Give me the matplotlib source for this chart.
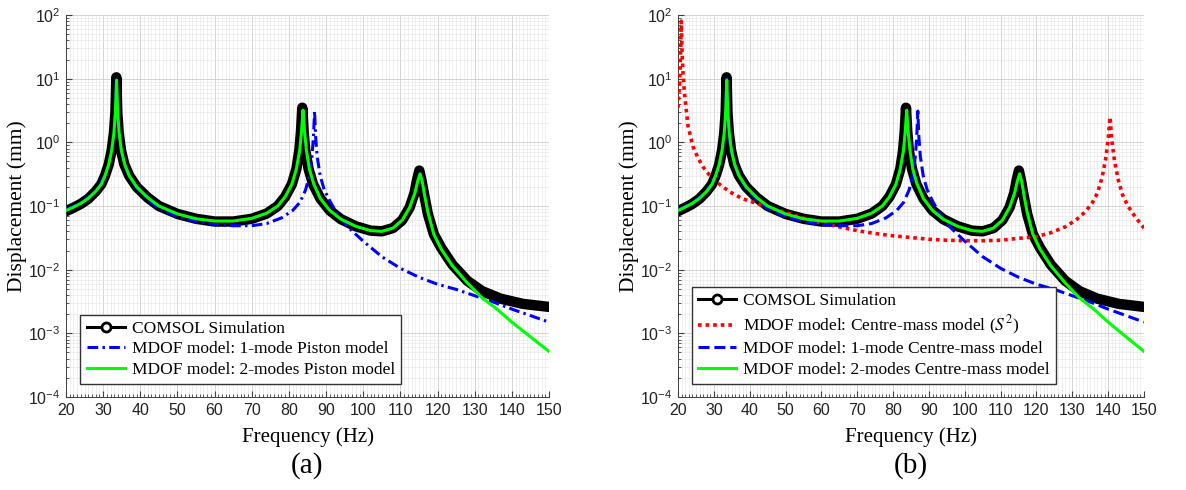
import matplotlib
matplotlib.use("Agg")
import matplotlib.pyplot as plt
import matplotlib.ticker as plticker
from matplotlib.lines import Line2D
import numpy as np

plt.rcParams['font.family'] = 'Liberation Sans'
plt.rcParams['mathtext.fontset'] = 'stix'

# ---- data (frequency in Hz, displacement in mm) ----
comsol_f = [20, 22, 24, 26, 28, 29.5, 30.5, 31.5, 32.3, 32.9, 33.3, 33.55, 33.8, 34.2, 34.8,
            35.7, 37, 39, 42, 45, 50, 55, 60, 65, 70, 74, 77, 79, 80.8, 82,
            82.8, 83.25, 83.6, 83.95, 84.4, 85.3, 86.5, 88.5, 91, 94, 98, 102, 105, 108, 110.5,
            112.5, 113.8, 114.5, 115.1, 115.7, 116.4, 117.4, 119, 121, 124, 128, 132, 137, 143, 150]
comsol_d = [0.083, 0.094, 0.108, 0.13, 0.17, 0.22, 0.3, 0.45, 0.75, 1.4, 3.0, 10.5, 3.0, 1.4, 0.75,
            0.45, 0.3, 0.2, 0.135, 0.1, 0.075, 0.063, 0.057, 0.057, 0.063, 0.076, 0.1, 0.14, 0.22, 0.38,
            0.75, 1.5, 3.5, 1.5, 0.75, 0.38, 0.22, 0.13, 0.085, 0.062, 0.048, 0.041, 0.04, 0.045, 0.06,
            0.095, 0.16, 0.26, 0.36, 0.25, 0.15, 0.075, 0.036, 0.022, 0.012, 0.0067, 0.0046, 0.0035, 0.0029, 0.0026]

# 2-modes model (same in both panels)
two_f = [20, 22, 24, 26, 28, 29.5, 30.5, 31.5, 32.3, 32.9, 33.3, 33.6, 33.9, 34.3, 34.9,
         35.8, 37, 39, 42, 45, 50, 55, 60, 65, 70, 74, 77, 79, 80.8, 82,
         82.9, 83.4, 83.8, 84.2, 84.7, 85.5, 86.7, 88.5, 91, 94, 98, 102, 105, 108, 110.5,
         112.5, 113.9, 114.7, 115.3, 115.9, 116.5, 117.4, 119, 121, 124, 128, 132, 136, 140, 145, 150]
two_d = [0.085, 0.096, 0.11, 0.132, 0.17, 0.22, 0.3, 0.45, 0.75, 1.4, 3.0, 9.5, 3.0, 1.4, 0.75,
         0.45, 0.3, 0.2, 0.135, 0.1, 0.075, 0.063, 0.058, 0.058, 0.064, 0.077, 0.1, 0.14, 0.22, 0.38,
         0.75, 1.5, 3.2, 1.5, 0.75, 0.38, 0.22, 0.13, 0.085, 0.062, 0.048, 0.041, 0.04, 0.045, 0.06,
         0.095, 0.16, 0.25, 0.32, 0.24, 0.15, 0.08, 0.036, 0.021, 0.0115, 0.0062, 0.0036, 0.0024, 0.0015, 0.00088, 0.00052]

# 1-mode model (same in both panels)
one_f = [20, 24, 28, 30.5, 31.5, 32.3, 32.9, 33.3, 33.55, 33.8, 34.2, 34.8, 35.7, 37, 39,
         42, 45, 50, 55, 60, 65, 70, 74, 78, 81, 83, 84.5, 85.5, 86.2, 86.6,
         86.9, 87.2, 87.6, 88.4, 89.5, 91, 93, 96, 100, 105, 110, 115, 120, 125, 130,
         135, 140, 145, 150]
one_d = [0.087, 0.112, 0.17, 0.3, 0.45, 0.75, 1.4, 3.0, 10.0, 3.0, 1.4, 0.75, 0.45, 0.29, 0.19,
         0.125, 0.092, 0.068, 0.057, 0.051, 0.049, 0.049, 0.053, 0.065, 0.085, 0.115, 0.18, 0.3, 0.6, 1.2,
         3.1, 1.2, 0.6, 0.3, 0.18, 0.12, 0.075, 0.046, 0.028, 0.016, 0.0105, 0.0076, 0.0059, 0.0049, 0.0039,
         0.0031, 0.0024, 0.0019, 0.0015]

# centre-mass model (S^2), panel (b) only
s2_f = [20, 20.4, 20.65, 20.9, 21.15, 21.4, 21.7, 22.0, 22.8, 24.2, 25.5, 27, 28.5, 30, 32,
        34.5, 38, 42, 45, 48.5, 55, 60, 65, 70, 75, 80, 85, 90, 95, 100,
        105, 110, 115, 120, 124, 128, 131, 133.5, 135.5, 137, 138.3, 139.3, 140, 140.5, 141,
        141.8, 142.8, 144, 145.5, 147.5, 150]
s2_d = [3.5, 8, 20, 80, 25, 12, 7, 4.6, 1.8, 0.85, 0.58, 0.41, 0.32, 0.26, 0.21,
        0.166, 0.13, 0.11, 0.095, 0.084, 0.064, 0.054, 0.047, 0.041, 0.037, 0.034, 0.032, 0.03, 0.029, 0.0285,
        0.0285, 0.029, 0.031, 0.033, 0.038, 0.047, 0.06, 0.08, 0.11, 0.16, 0.28, 0.55, 1.1, 2.5, 1.1,
        0.5, 0.26, 0.15, 0.1, 0.068, 0.045]

serif = 'Liberation Serif'
W, H = 1186, 490
fig = plt.figure(figsize=(W / 100, H / 100), dpi=100)
ax1 = fig.add_axes([66 / W, 1 - 397 / H, 483 / W, 382 / H])
ax2 = fig.add_axes([678 / W, 1 - 397 / H, 466 / W, 382 / H])


def style_axes(ax):
    ax.set_yscale('log')
    ax.set_xlim(20, 150)
    ax.set_ylim(1e-4, 1e2)
    ax.xaxis.set_major_locator(plticker.MultipleLocator(10))
    ax.xaxis.set_minor_locator(plticker.MultipleLocator(1))
    ax.yaxis.set_major_locator(plticker.LogLocator(base=10, numticks=10))
    ax.yaxis.set_minor_locator(plticker.LogLocator(base=10, subs=np.arange(2, 10), numticks=20))
    ax.yaxis.set_minor_formatter(plticker.NullFormatter())
    ax.yaxis.set_major_formatter(plticker.FuncFormatter(
        lambda v, p: r'$\mathregular{10^{%d}}$' % int(round(np.log10(v)))))
    ax.grid(True, which='major', color='#cdcdcd', lw=0.6)
    ax.grid(True, which='minor', color='#e6e6e6', lw=0.45)
    ax.set_axisbelow(True)
    for s in ['top', 'right']:
        ax.spines[s].set_visible(False)
    for s in ['left', 'bottom']:
        ax.spines[s].set_color('#404040')
        ax.spines[s].set_linewidth(0.7)
    ax.tick_params(which='both', direction='in', colors='#404040', labelcolor='#222222',
                   labelsize=11.5, top=False, right=False)
    ax.tick_params(which='major', length=4, pad=4)
    ax.tick_params(which='minor', length=2)
    ax.set_xlabel('Frequency (Hz)', family=serif, fontsize=15, labelpad=7)
    ax.set_ylabel('Displacement (mm)', family=serif, fontsize=15.5, labelpad=1)


comsol_handle = Line2D([], [], color='black', lw=2.2, marker='o', markersize=6.5,
                       markerfacecolor='white', markeredgecolor='black', markeredgewidth=2)
comsol_kw = dict(color='black', lw=7.5, solid_capstyle='round', solid_joinstyle='round', zorder=2)

# ---- panel (a) ----
style_axes(ax1)
ax1.plot(comsol_f, comsol_d, **comsol_kw)
h1, = ax1.plot(one_f, one_d, color='#0000ff', lw=2.2, ls=(0, (3.5, 1.4, 0.8, 1.4)), zorder=3)
h2, = ax1.plot(two_f, two_d, color='#00ff00', lw=2.2, zorder=4)
ax1.legend([comsol_handle, h1, h2],
           ['COMSOL Simulation', 'MDOF model: 1-mode Piston model', 'MDOF model: 2-modes Piston model'],
           loc='lower left', bbox_to_anchor=(0.03, 0.034), borderaxespad=0,
           prop={'family': serif, 'size': 12.5}, fancybox=False, framealpha=1,
           edgecolor='#333333', labelspacing=0.25, handlelength=2.2, handletextpad=0.4,
           borderpad=0.35)

# ---- panel (b) ----
style_axes(ax2)
ax2.plot(comsol_f, comsol_d, **comsol_kw)
r1, = ax2.plot(s2_f, s2_d, color='#ff0000', lw=2.6, ls=(0, (1, 1.1)), zorder=3)
b1, = ax2.plot(one_f, one_d, color='#0000ff', lw=2.2, ls=(0, (3.6, 1.6)), zorder=3.5)
g1, = ax2.plot(two_f, two_d, color='#00ff00', lw=2.2, zorder=4)
ax2.legend([comsol_handle, r1, b1, g1],
           ['COMSOL Simulation', r'MDOF model: Centre-mass model ($S^{2}$)',
            'MDOF model: 1-mode Centre-mass model', 'MDOF model: 2-modes Centre-mass model'],
           loc='lower left', bbox_to_anchor=(0.03, 0.034), borderaxespad=0,
           prop={'family': serif, 'size': 12.5}, fancybox=False, framealpha=1,
           edgecolor='#333333', labelspacing=0.25, handlelength=2.2, handletextpad=0.4,
           borderpad=0.35)

fig.text((66 + 549) / 2 / W, 1 - 466 / H, '(a)', family=serif, fontsize=21, ha='center', va='center')
fig.text((678 + 1144) / 2 / W, 1 - 466 / H, '(b)', family=serif, fontsize=21, ha='center', va='center')

fig.savefig('out.png', dpi=100)
